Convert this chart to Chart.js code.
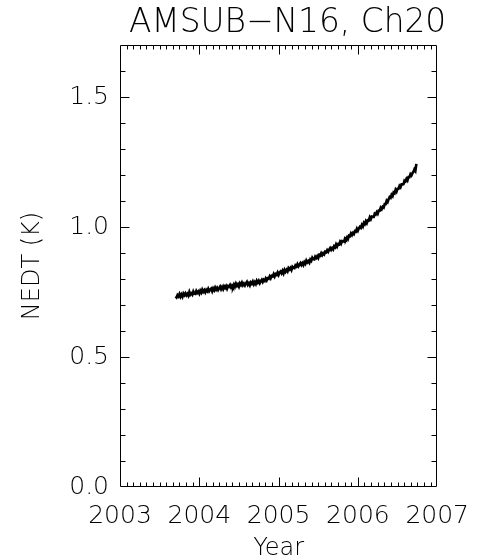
<!DOCTYPE html>
<html><head><meta charset="utf-8">
<script src="https://cdn.jsdelivr.net/npm/chart.js@4.4.1/dist/chart.umd.min.js"></script>
<style>html,body{margin:0;padding:0;background:#fff;}canvas{display:block;}</style>
</head><body>
<canvas id="c" width="483" height="560"></canvas>
<script>
// ---- data ----
const chartTitle = 'AMSUB\u2212N16, Ch20';
const xAxisTitle = 'Year';
const yAxisTitle = 'NEDT (K)';
const xTickYears = [2003, 2004, 2005, 2006, 2007];
const yTickValues = [0.0, 0.5, 1.0, 1.5];
const startYear = 2003.7;      // first sample (decimal year)
const sampleStep = 0.0125;     // years between samples
const nedt = [
  0.733,0.729,0.738,0.733,0.742,0.732,0.740,0.732,0.744,0.738,
  0.745,0.737,0.743,0.736,0.750,0.740,0.745,0.740,0.752,0.744,
  0.743,0.754,0.747,0.752,0.744,0.755,0.748,0.759,0.751,0.757,
  0.749,0.758,0.753,0.762,0.753,0.759,0.763,0.753,0.764,0.757,
  0.767,0.759,0.766,0.758,0.765,0.771,0.761,0.769,0.761,0.772,
  0.766,0.773,0.763,0.773,0.770,0.777,0.768,0.775,0.769,0.779,
  0.771,0.782,0.774,0.780,0.771,0.783,0.777,0.786,0.776,0.782,
  0.775,0.783,0.789,0.778,0.784,0.776,0.787,0.782,0.790,0.780,
  0.788,0.781,0.793,0.786,0.793,0.784,0.792,0.797,0.789,0.797,
  0.793,0.802,0.795,0.803,0.801,0.810,0.803,0.812,0.810,0.819,
  0.810,0.819,0.816,0.825,0.816,0.825,0.829,0.822,0.831,0.822,
  0.835,0.828,0.835,0.829,0.842,0.837,0.843,0.835,0.847,0.843,
  0.842,0.852,0.848,0.857,0.849,0.855,0.861,0.854,0.861,0.854,
  0.865,0.859,0.871,0.864,0.869,0.863,0.875,0.870,0.882,0.876,
  0.875,0.886,0.881,0.888,0.881,0.893,0.890,0.899,0.892,0.899,
  0.895,0.905,0.903,0.911,0.905,0.913,0.919,0.912,0.919,0.914,
  0.926,0.922,0.933,0.925,0.934,0.933,0.943,0.936,0.946,0.945,
  0.944,0.956,0.952,0.960,0.954,0.967,0.965,0.975,0.969,0.977,
  0.973,0.984,0.982,0.993,0.986,0.995,1.001,0.997,1.008,1.002,
  1.016,1.011,1.022,1.015,1.026,1.025,1.037,1.030,1.040,1.039,
  1.039,1.051,1.048,1.057,1.051,1.063,1.063,1.074,1.069,1.078,
  1.075,1.088,1.088,1.101,1.096,1.107,1.115,1.112,1.124,1.119,
  1.133,1.130,1.143,1.136,1.147,1.147,1.158,1.153,1.164,1.164,
  1.165,1.178,1.175,1.185,1.179,1.192,1.192,1.203,1.198,1.207,
  1.212,1.222,1.216,1.243
];

// ---- build ----
const points = nedt.map((v, i) => ({ x: startYear + i * sampleStep, y: v }));
const FONT = 'DejaVu Sans';
const TITLE_SHIFT = 9;   // title sits slightly right of the plot centre

const frameTicks = {
  id: 'frameTicks',
  afterLayout(chart) {
    const t = chart.titleBlock;
    if (t) { t.left += TITLE_SHIFT; t.right += TITLE_SHIFT; }
  },
  afterDatasetsDraw(chart) {
    const { ctx, chartArea: a, scales: { x, y } } = chart;
    ctx.save();
    ctx.strokeStyle = '#000';
    ctx.lineWidth = 1;
    const L = Math.round(a.left) + 0.5, R = Math.round(a.right) - 0.5;
    const T = Math.round(a.top) + 0.5, B = Math.round(a.bottom) - 0.5;
    ctx.beginPath();
    ctx.rect(L, T, R - L, B - T);
    const x0 = xTickYears[0], x1 = xTickYears[xTickYears.length - 1];
    for (let m = 1; m < (x1 - x0) * 12; m++) {
      const px = Math.round(x.getPixelForValue(x0 + m / 12)) + 0.5;
      const len = m % 12 === 0 ? 9 : 4;
      ctx.moveTo(px, B); ctx.lineTo(px, B - len);
      ctx.moveTo(px, T); ctx.lineTo(px, T + len);
    }
    for (let k = 1; k < 17; k++) {
      const py = Math.round(y.getPixelForValue(k / 10)) + 0.5;
      const len = k % 5 === 0 ? 9 : 5;
      ctx.moveTo(L, py); ctx.lineTo(L + len, py);
      ctx.moveTo(R, py); ctx.lineTo(R - len, py);
    }
    ctx.stroke();
    ctx.restore();
  }
};

new Chart(document.getElementById('c'), {
  type: 'line',
  data: { datasets: [{
    data: points, borderColor: '#000', borderWidth: 2.6,
    pointRadius: 0, tension: 0, fill: false
  }]},
  options: {
    responsive: false, animation: false, devicePixelRatio: 1,
    layout: { padding: { left: 0, right: 42, top: 0, bottom: 0 } },
    plugins: {
      legend: { display: false }, tooltip: { enabled: false },
      title: {
        display: true, text: chartTitle, fullSize: false, color: '#000',
        font: { family: FONT, size: 33.5, weight: 200, lineHeight: 1.2 },
        padding: { top: 3, bottom: 1.8 }
      }
    },
    scales: {
      x: {
        type: 'linear', min: xTickYears[0], max: xTickYears[xTickYears.length - 1],
        grid: { display: false, drawTicks: false }, border: { display: false },
        afterBuildTicks: s => { s.ticks = xTickYears.map(v => ({ value: v })); },
        ticks: { color: '#000', padding: 14, maxRotation: 0, autoSkip: false,
          font: { family: FONT, size: 25, weight: 200 },
          callback: v => String(v) },
        title: { display: true, text: xAxisTitle, color: '#000',
          font: { family: FONT, size: 24, weight: 200 }, padding: { top: 0, bottom: -3 } },
        afterFit: s => { s.height = 73; }
      },
      y: {
        type: 'linear', min: 0, max: 1.7,
        grid: { display: false, drawTicks: false }, border: { display: false },
        afterBuildTicks: s => { s.ticks = yTickValues.map(v => ({ value: v })); },
        ticks: { color: '#000', padding: 11,
          font: { family: FONT, size: 25, weight: 200 },
          callback: v => Number(v).toFixed(1) },
        title: { display: true, text: yAxisTitle, color: '#000',
          font: { family: FONT, size: 24, weight: 200 }, padding: { top: 18, bottom: 0 } },
        afterFit: s => { s.width = 120; }
      }
    }
  },
  plugins: [frameTicks]
});
</script>
</body></html>
